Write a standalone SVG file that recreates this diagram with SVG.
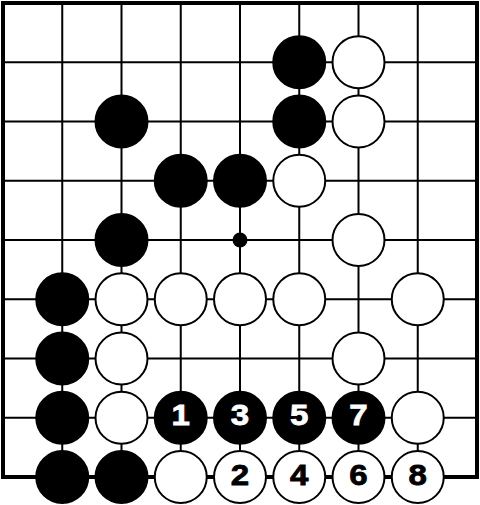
<svg xmlns="http://www.w3.org/2000/svg" width="480" height="505" viewBox="0 0 480 505">
<style>
.grid line{stroke:#000;stroke-width:2}
.border{fill:none;stroke:#000;stroke-width:4}
.b{fill:#000;stroke:#000;stroke-width:2}
.w{fill:#fff;stroke:#000;stroke-width:2}
.n{font-family:"Liberation Sans",Arial,sans-serif;font-weight:bold;font-size:29.5px;text-anchor:middle;stroke-width:0.8}
.nb{fill:#fff;stroke:#fff}
.nw{fill:#000;stroke:#000}
</style>
<rect width="480" height="505" fill="#fff"/>
<g id="board">
<g class="grid">
<line x1="62.25" y1="3" x2="62.25" y2="477"/>
<line x1="121.5" y1="3" x2="121.5" y2="477"/>
<line x1="180.75" y1="3" x2="180.75" y2="477"/>
<line x1="240" y1="3" x2="240" y2="477"/>
<line x1="299.25" y1="3" x2="299.25" y2="477"/>
<line x1="358.5" y1="3" x2="358.5" y2="477"/>
<line x1="417.75" y1="3" x2="417.75" y2="477"/>
<line x1="3" y1="62.25" x2="477" y2="62.25"/>
<line x1="3" y1="121.5" x2="477" y2="121.5"/>
<line x1="3" y1="180.75" x2="477" y2="180.75"/>
<line x1="3" y1="240" x2="477" y2="240"/>
<line x1="3" y1="299.25" x2="477" y2="299.25"/>
<line x1="3" y1="358.5" x2="477" y2="358.5"/>
<line x1="3" y1="417.75" x2="477" y2="417.75"/>
</g>
<rect class="border" x="3" y="3" width="474" height="474"/>
<circle id="hoshi" cx="240" cy="240" r="7.5" fill="#000"/>
</g>
<g id="stones">
<circle id="b-5-1" class="b" cx="299.25" cy="62.25" r="26"/>
<circle id="w-6-1" class="w" cx="358.5" cy="62.25" r="26"/>
<circle id="b-2-2" class="b" cx="121.5" cy="121.5" r="26"/>
<circle id="b-5-2" class="b" cx="299.25" cy="121.5" r="26"/>
<circle id="w-6-2" class="w" cx="358.5" cy="121.5" r="26"/>
<circle id="b-3-3" class="b" cx="180.75" cy="180.75" r="26"/>
<circle id="b-4-3" class="b" cx="240" cy="180.75" r="26"/>
<circle id="w-5-3" class="w" cx="299.25" cy="180.75" r="26"/>
<circle id="b-2-4" class="b" cx="121.5" cy="240" r="26"/>
<circle id="w-6-4" class="w" cx="358.5" cy="240" r="26"/>
<circle id="b-1-5" class="b" cx="62.25" cy="299.25" r="26"/>
<circle id="w-2-5" class="w" cx="121.5" cy="299.25" r="26"/>
<circle id="w-3-5" class="w" cx="180.75" cy="299.25" r="26"/>
<circle id="w-4-5" class="w" cx="240" cy="299.25" r="26"/>
<circle id="w-5-5" class="w" cx="299.25" cy="299.25" r="26"/>
<circle id="w-7-5" class="w" cx="417.75" cy="299.25" r="26"/>
<circle id="b-1-6" class="b" cx="62.25" cy="358.5" r="26"/>
<circle id="w-2-6" class="w" cx="121.5" cy="358.5" r="26"/>
<circle id="w-6-6" class="w" cx="358.5" cy="358.5" r="26"/>
<circle id="b-1-7" class="b" cx="62.25" cy="417.75" r="26"/>
<circle id="w-2-7" class="w" cx="121.5" cy="417.75" r="26"/>
<circle id="w-7-7" class="w" cx="417.75" cy="417.75" r="26"/>
<circle id="b-1-8" class="b" cx="62.25" cy="477" r="26"/>
<circle id="b-2-8" class="b" cx="121.5" cy="477" r="26"/>
<circle id="w-3-8" class="w" cx="180.75" cy="477" r="26"/>
</g>
<g id="move1"><circle class="b" cx="180.75" cy="417.75" r="26"/><text class="n nb" transform="translate(180.75,424.8) scale(1.12,1)">1</text></g>
<g id="move2"><circle class="w" cx="240" cy="477" r="26"/><text class="n nw" transform="translate(240,484.5) scale(1.12,1)">2</text></g>
<g id="move3"><circle class="b" cx="240" cy="417.75" r="26"/><text class="n nb" transform="translate(240,424.8) scale(1.12,1)">3</text></g>
<g id="move4"><circle class="w" cx="299.25" cy="477" r="26"/><text class="n nw" transform="translate(299.25,484.5) scale(1.12,1)">4</text></g>
<g id="move5"><circle class="b" cx="299.25" cy="417.75" r="26"/><text class="n nb" transform="translate(299.25,424.8) scale(1.12,1)">5</text></g>
<g id="move6"><circle class="w" cx="358.5" cy="477" r="26"/><text class="n nw" transform="translate(358.5,484.5) scale(1.12,1)">6</text></g>
<g id="move7"><circle class="b" cx="358.5" cy="417.75" r="26"/><text class="n nb" transform="translate(358.5,424.8) scale(1.12,1)">7</text></g>
<g id="move8"><circle class="w" cx="417.75" cy="477" r="26"/><text class="n nw" transform="translate(417.75,484.5) scale(1.12,1)">8</text></g>
</svg>
